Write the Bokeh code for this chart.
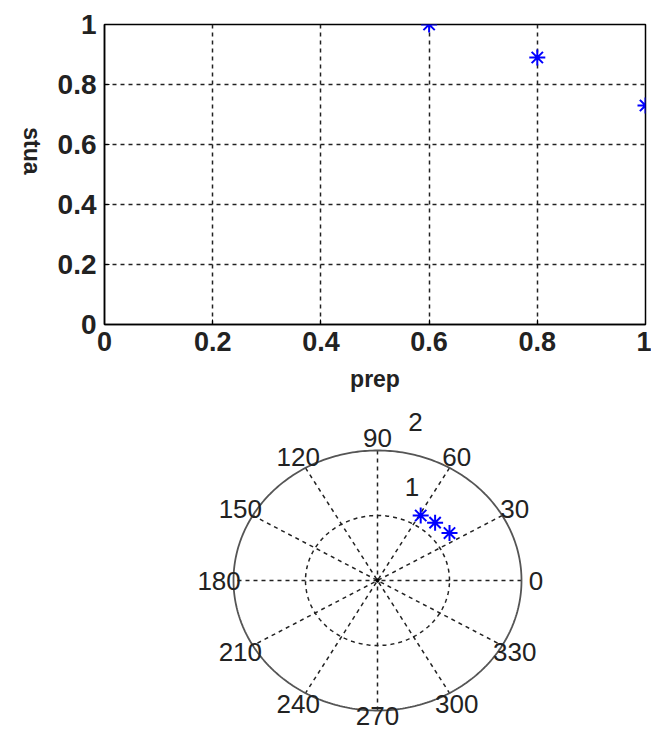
import numpy as np
from bokeh.plotting import figure
from bokeh.layouts import column
from bokeh.models import Range1d, FixedTicker, ColumnDataSource
from bokeh.core.properties import value
from bokeh.embed import file_html
from bokeh.resources import INLINE

# ---- data ----
prep = [0.6, 0.8, 1.0]
stua = [1.0, 0.89, 0.73]
x_ticks = [0, 0.2, 0.4, 0.6, 0.8, 1]
x_tick_labels = ["0", "0.2", "0.4", "0.6", "0.8", "1"]
y_ticks = [0, 0.2, 0.4, 0.6, 0.8, 1]
y_tick_labels = ["0", "0.2", "0.4", "0.6", "0.8", "1"]
polar_rings = [1, 2]
polar_ring_labels = ["1", "2"]
polar_angles = [0, 30, 60, 90, 120, 150, 180, 210, 240, 270, 300, 330]
polar_angle_labels = ["0", "30", "60", "90", "120", "150", "180", "210", "240", "270", "300", "330"]

FONT = "Liberation Sans"
BLUE = "#0000ff"
LEFT, RIGHT = 104, 6

# ---- top cartesian plot ----
p = figure(width=651, height=395, x_range=Range1d(0, 1), y_range=Range1d(0, 1),
           output_backend="svg", toolbar_location=None,
           min_border_left=LEFT, min_border_right=RIGHT, min_border_top=24, min_border_bottom=71)
p.outline_line_color = "black"
p.outline_line_width = 1.5
p.background_fill_color = "white"
p.border_fill_color = "white"

for ax in (p.xaxis[0], p.yaxis[0]):
    ax.axis_line_color = "black"
    ax.axis_line_width = 1.5
    ax.major_tick_in = 5
    ax.major_tick_out = 0
    ax.minor_tick_line_color = None
    ax.major_label_text_font = FONT
    ax.major_label_text_font_style = "bold"
    ax.major_label_text_color = "#222222"
p.xaxis.major_label_text_font_size = "27px"
p.yaxis.major_label_text_font_size = "28px"

p.xaxis.ticker = FixedTicker(ticks=x_ticks)
p.xaxis.major_label_overrides = {t: l for t, l in zip(x_ticks, x_tick_labels)}
p.yaxis.ticker = FixedTicker(ticks=y_ticks)
p.yaxis.major_label_overrides = {t: l for t, l in zip(y_ticks, y_tick_labels)}
p.xaxis.major_label_standoff = 7
p.yaxis.major_label_standoff = 8

p.xaxis.axis_label = "prep"
p.xaxis.axis_label_text_font = FONT
p.xaxis.axis_label_text_font_style = "bold"
p.xaxis.axis_label_text_font_size = "23px"
p.xaxis.axis_label_text_color = "#222222"
p.xaxis.axis_label_standoff = 12

p.yaxis.axis_label = "stua"
p.yaxis.axis_label_text_font = FONT
p.yaxis.axis_label_text_font_style = "bold"
p.yaxis.axis_label_text_font_size = "23px"
p.yaxis.axis_label_text_color = "#222222"
p.yaxis.axis_label_standoff = 23
try:
    p.yaxis.axis_label_orientation = -np.pi / 2
except Exception:
    pass

p.xgrid.ticker = FixedTicker(ticks=x_ticks)
p.ygrid.ticker = FixedTicker(ticks=y_ticks)
p.grid.grid_line_color = "#222222"
p.grid.grid_line_dash = "4 4"
p.grid.grid_line_width = 1.5
p.grid.grid_line_alpha = 1.0

p.scatter(prep, stua, marker="asterisk", size=16, line_color=BLUE, line_width=2)

# ---- bottom polar plot ----
W2, H2 = 651, 334
FW = W2 - LEFT - RIGHT     # frame width (aligned with top plot)
cx, cy = 377 - LEFT, 185   # centre in frame pixels (from left, from top)
hr, vr = 144, 130          # pixel radius of outer ring
rmax = max(polar_rings)
ux = rmax / hr
uy = rmax / vr
p2 = figure(width=W2, height=H2,
            x_range=Range1d(-cx * ux, (FW - cx) * ux),
            y_range=Range1d(-(H2 - cy) * uy, cy * uy),
            output_backend="svg", toolbar_location=None,
            min_border_left=LEFT, min_border_right=RIGHT,
            min_border_top=0, min_border_bottom=0)
p2.axis.visible = False
p2.grid.visible = False
p2.outline_line_color = None
p2.background_fill_color = "white"
p2.border_fill_color = "white"

t = np.linspace(0, 2 * np.pi, 361)
# spokes
ang = np.deg2rad(np.array(polar_angles[:6]))
p2.multi_line([[rmax * np.cos(a), -rmax * np.cos(a)] for a in ang],
              [[rmax * np.sin(a), -rmax * np.sin(a)] for a in ang],
              line_color="#222222", line_dash="4 4", line_width=1.5)
# rings
for r in polar_rings:
    if r == rmax:
        p2.line(r * np.cos(t), r * np.sin(t), line_color="#555555", line_width=1.8)
    else:
        p2.line(r * np.cos(t), r * np.sin(t), line_color="#222222", line_dash="4 4", line_width=1.5)

# angle labels
aa = np.deg2rad(np.array(polar_angles))
ly = 1.1 * rmax * np.sin(aa)
ly = np.where(np.isclose(np.array(polar_angles), 270), ly + 8 * uy, ly)
p2.text(x=1.1 * rmax * np.cos(aa), y=ly, text=polar_angle_labels,
        text_align="center", text_baseline="middle",
        text_font=value(FONT), text_font_size="26px", text_color="#222222")
# ring labels
a80 = np.deg2rad(80)
rsrc = ColumnDataSource(dict(
    x=[r * np.cos(a80) for r in polar_rings],
    y=[r * np.sin(a80) for r in polar_rings],
    text=polar_ring_labels,
    xo=[22, 13], yo=[-29, -30]))
p2.text(x="x", y="y", text="text", x_offset="xo", y_offset="yo", source=rsrc,
        text_align="center", text_baseline="middle",
        text_font=value(FONT), text_font_size="26px", text_color="#222222")

# data in polar form
theta = np.arctan2(np.array(stua), np.array(prep))
rho = np.hypot(np.array(prep), np.array(stua))
p2.scatter(rho * np.cos(theta), rho * np.sin(theta), marker="asterisk", size=16,
           line_color=BLUE, line_width=2)
p2.scatter([0], [0], size=3, color="black")

layout = column(p, p2, spacing=0)
open("out.html", "w").write(file_html(layout, INLINE))
